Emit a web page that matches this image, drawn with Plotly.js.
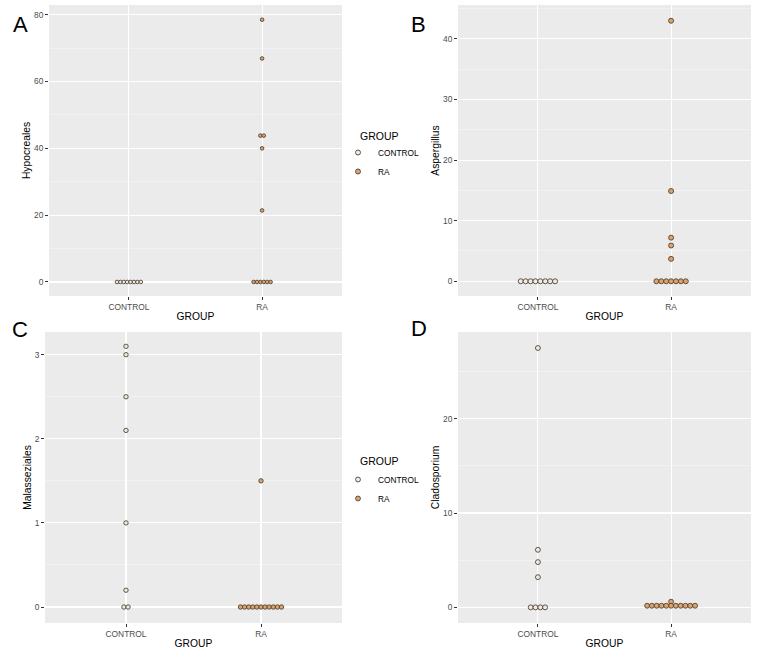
<!DOCTYPE html>
<html>
<head>
<meta charset="utf-8">
<script src="https://cdn.plot.ly/plotly-3.0.1.min.js"></script>
<style>html,body{margin:0;padding:0;background:#fff;}#chart{width:761px;height:650px;}</style>
</head>
<body>
<div id="chart"></div>
<script>
// ---- data ----
const groups = ['CONTROL', 'RA'];
const hypocrealesControl = [0, 0, 0, 0, 0, 0, 0, 0];
const hypocrealesRA = [78.5, 66.9, 43.8, 43.8, 40.0, 21.4, 0, 0, 0, 0, 0, 0];
const aspergillusControl = [0, 0, 0, 0, 0, 0, 0, 0];
const aspergillusRA = [43.0, 14.9, 7.2, 5.9, 3.7, 0, 0, 0, 0, 0, 0, 0];
const malassezialesControl = [3.1, 3.0, 2.5, 2.1, 1.0, 0.2, 0, 0];
const malassezialesRA = [1.5, 0, 0, 0, 0, 0, 0, 0, 0, 0, 0, 0];
const cladosporiumControl = [27.5, 6.1, 4.8, 3.2, 0, 0, 0, 0];
const cladosporiumRA = [0.6, 0.17, 0.17, 0.17, 0.17, 0.17, 0.17, 0.17, 0.17, 0.17, 0.17, 0.17];
const panelLetters = ['A', 'B', 'C', 'D'];
const yTitles = ['Hypocreales', 'Aspergillus', 'Malasseziales', 'Cladosporium'];
const legendTitle = 'GROUP';

// ---- styles ----
const W = 761, H = 650;
const fillCol = {CONTROL: '#F1ECE3', RA: '#DFA46C'};
const lineCol = '#4E4236';
const FONT = 'Liberation Sans, Arial, sans-serif';

// panel geometry in px: [left, right, top, bottom]
const panels = [
  {box: [49, 342, 5, 296], yr: [-4.2, 82.9], dt: 20, mdt: 10, dot: 3.6, sp: 3.4, data: [hypocrealesControl, hypocrealesRA], legend: null},
  {box: [458, 751, 5, 296], yr: [-2.43, 45.6], dt: 10, mdt: 5, dot: 5.0, sp: 4.9, data: [aspergillusControl, aspergillusRA], legend: 'legend'},
  {box: [45, 342, 332, 623], yr: [-0.19, 3.27], dt: 1, mdt: 0.5, dot: 4.4, sp: 4.1, data: [malassezialesControl, malassezialesRA], legend: null},
  {box: [458, 751, 332, 623], yr: [-1.66, 29.2], dt: 10, mdt: 5, dot: 4.9, sp: 4.8, data: [cladosporiumControl, cladosporiumRA], legend: 'legend2'}
];

function stackDots(values, center, spacing) {
  const bins = new Map();
  values.forEach(v => { const k = v.toFixed(3); if (!bins.has(k)) bins.set(k, []); bins.get(k).push(v); });
  const xs = [], ys = [];
  bins.forEach(arr => {
    const n = arr.length;
    arr.forEach((v, i) => { xs.push(center + (i - (n - 1) / 2) * spacing); ys.push(v); });
  });
  return {xs, ys};
}

const traces = [];
const legendCommon = {
  xanchor: 'left', yanchor: 'top',
  font: {size: 8.3, color: '#000'}, bgcolor: 'rgba(0,0,0,0)', tracegroupgap: 0, itemwidth: 30
};
const layout = {
  width: W, height: H,
  margin: {l: 0, r: 0, t: 0, b: 0},
  paper_bgcolor: '#ffffff',
  plot_bgcolor: '#EBEBEB',
  font: {family: FONT, color: '#000'},
  annotations: [],
  legend: Object.assign({x: 338 / W, y: 1 - 138 / H}, legendCommon),
  legend2: Object.assign({x: 338 / W, y: 1 - 465 / H}, legendCommon)
};
[[358, 136], [358, 461]].forEach(pos => {
  layout.annotations.push({
    text: legendTitle, xref: 'paper', yref: 'paper', x: pos[0] / W, y: 1 - pos[1] / H,
    xanchor: 'left', yanchor: 'middle', showarrow: false, font: {size: 10.5, color: '#000', family: FONT}
  });
});

panels.forEach((p, idx) => {
  const n = idx + 1;
  const xa = 'xaxis' + (n === 1 ? '' : n), ya = 'yaxis' + (n === 1 ? '' : n);
  const xr = 'x' + (n === 1 ? '' : n), yr = 'y' + (n === 1 ? '' : n);
  const [l, r, t, b] = p.box;
  const pxPerUnit = (r - l) / 2.2;
  groups.forEach((g, gi) => {
    const s = stackDots(p.data[gi], gi + 1, p.sp / pxPerUnit);
    traces.push({
      type: 'scatter', mode: 'markers', x: s.xs, y: s.ys, xaxis: xr, yaxis: yr,
      name: g, legend: p.legend || 'legend', showlegend: !!p.legend,
      marker: {size: p.dot, color: fillCol[g], line: {color: lineCol, width: 0.9}},
      hoverinfo: 'y'
    });
  });
  layout[xa] = {
    domain: [l / W, r / W], anchor: yr, range: [0.4, 2.6],
    tickvals: [1, 2], ticktext: groups, showgrid: true, gridcolor: '#ffffff', gridwidth: 1.1,
    zeroline: false, ticks: 'outside', ticklen: 3, tickcolor: '#333333', tickwidth: 1,
    tickfont: {size: 8.4, color: '#4D4D4D'}, showline: false, fixedrange: true,
    title: {text: 'GROUP', font: {size: 10.3, color: '#000'}, standoff: 1}
  };
  layout[ya] = {
    domain: [1 - b / H, 1 - t / H], anchor: xr, range: p.yr, dtick: p.dt, tick0: 0,
    showgrid: true, gridcolor: '#ffffff', gridwidth: 1.1, zeroline: false,
    ticks: 'outside', ticklen: 3, tickcolor: '#333333', tickwidth: 1,
    tickfont: {size: 8.4, color: '#4D4D4D'}, showline: false, fixedrange: true,
    minor: {dtick: p.mdt, tick0: 0, showgrid: true, gridcolor: '#F6F6F6', gridwidth: 0.6, ticks: ''},
    title: {text: yTitles[idx], font: {size: 10.3, color: '#000'}, standoff: 1}
  };
  const letterPos = [[20, 25], [419, 24], [20, 329], [419, 328]][idx];
  layout.annotations.push({
    text: panelLetters[idx], xref: 'paper', yref: 'paper',
    x: letterPos[0] / W, y: 1 - letterPos[1] / H, xanchor: 'center', yanchor: 'middle',
    showarrow: false, font: {size: 22, color: '#000', family: FONT}
  });
});

Plotly.newPlot('chart', traces, layout, {displayModeBar: false, staticPlot: true});
</script>
</body>
</html>
